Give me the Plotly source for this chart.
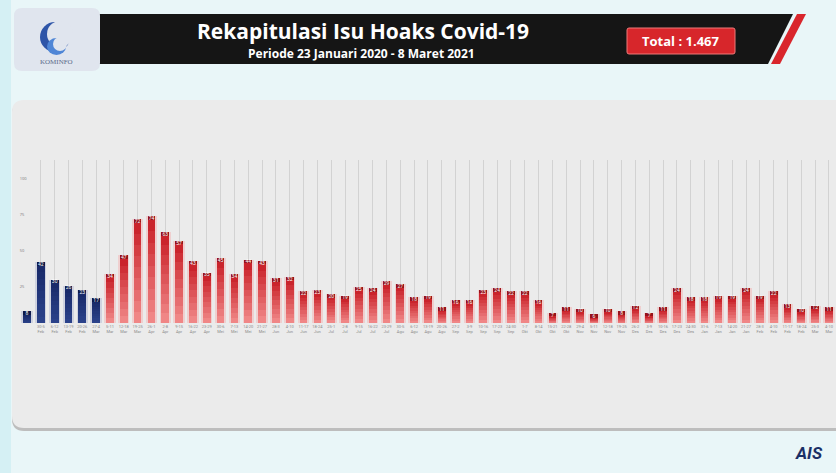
import plotly.graph_objects as go
import numpy as np
import pandas as pd

W, H = 836, 473

# ---- data ----
values = [8, 42, 30, 26, 23, 17,
          34, 47, 72, 74, 63, 57, 43, 35, 45, 34, 44, 43, 31, 32,
          22, 23, 20, 19, 25, 24, 29, 27, 18, 19, 11, 16, 16, 23,
          24, 22, 22, 16, 7, 11, 10, 6, 10, 8, 12, 7, 11, 24,
          18, 18, 19, 19, 24, 19, 22, 13, 10, 12, 11]
phase = ["pre"] * 6 + ["post"] * 53
week_start = pd.date_range("2020-01-23", periods=len(values), freq="7D")
bulan = ["Jan", "Feb", "Mar", "Apr", "Mei", "Jun", "Jul", "Agu", "Sep", "Okt", "Nov", "Des"]
week_labels = [f"{s.day}-{(s + pd.Timedelta(days=6)).day}<br>{bulan[(s + pd.Timedelta(days=6)).month - 1]}"
               for s in week_start]
y_ticks = [0, 25, 50, 75, 100]

title = "Rekapitulasi Isu Hoaks Covid-19"
subtitle = "Periode 23 Januari 2020 - 8 Maret 2021"
total_text = "Total : 1.467"

vals = np.array(values, dtype=float)
xs = list(range(len(values)))


def px(x):
    return x / W


def py(y):
    return 1 - y / H


def mix(c1, c2, t):
    return "rgb(%d,%d,%d)" % tuple(round(a + (b - a) * t) for a, b in zip(c1, c2))


def path(points):
    return "M " + " L ".join(f"{px(x):.5f},{py(y):.5f}" for x, y in points) + " Z"


def rrect(x0, y0, x1, y1, r):
    s = f"M {px(x0 + r):.5f},{py(y0):.5f} L {px(x1 - r):.5f},{py(y0):.5f} "
    s += f"Q {px(x1):.5f},{py(y0):.5f} {px(x1):.5f},{py(y0 + r):.5f} "
    s += f"L {px(x1):.5f},{py(y1 - r):.5f} Q {px(x1):.5f},{py(y1):.5f} {px(x1 - r):.5f},{py(y1):.5f} "
    s += f"L {px(x0 + r):.5f},{py(y1):.5f} Q {px(x0):.5f},{py(y1):.5f} {px(x0):.5f},{py(y1 - r):.5f} "
    s += f"L {px(x0):.5f},{py(y0 + r):.5f} Q {px(x0):.5f},{py(y0):.5f} {px(x0 + r):.5f},{py(y0):.5f} Z"
    return s


fig = go.Figure()

# glow behind bars
glow = ["rgba(60,80,160,0.16)" if p == "pre" else "rgba(255,110,110,0.22)" for p in phase]
fig.add_trace(go.Bar(x=xs, y=vals, width=0.82, marker=dict(color=glow, line=dict(width=0)),
                     xaxis="x", yaxis="y", hoverinfo="skip", showlegend=False))

# gradient bodies (stacked slices of each value)
cap = np.minimum(vals, 2.4)
body = vals - cap
nseg = 9
red_bot, red_top = (242, 140, 140), (200, 30, 38)
blu_bot, blu_top = (44, 68, 140), (24, 40, 104)
for k in range(nseg):
    t = (k + 0.5) / nseg
    cols = [mix(blu_bot, blu_top, t) if p == "pre" else mix(red_bot, red_top, t) for p in phase]
    fig.add_trace(go.Bar(x=xs, y=body / nseg, width=0.56,
                         marker=dict(color=cols, line=dict(width=0)),
                         xaxis="x2", yaxis="y", hoverinfo="skip", showlegend=False))
cap_cols = ["rgb(14,25,72)" if p == "pre" else "rgb(150,18,26)" for p in phase]
fig.add_trace(go.Bar(x=xs, y=cap, width=0.56, marker=dict(color=cap_cols, line=dict(width=0)),
                     xaxis="x2", yaxis="y", hovertext=values, hoverinfo="text", showlegend=False))

# value labels
fig.add_trace(go.Scatter(x=xs, y=vals, mode="text", text=[str(v) for v in values],
                         textposition="bottom center",
                         textfont=dict(size=5, color="white", family="Roboto"),
                         xaxis="x2", yaxis="y", hoverinfo="skip", showlegend=False))

spacing = (829 - 27) / (len(values) - 1)
left = 27 - 0.75 * spacing
right = 829 + 0.5 * spacing

shapes = [
    dict(type="rect", xref="paper", yref="paper", x0=0, x1=px(11), y0=0, y1=1,
         fillcolor="#d5f0f4", line_width=0, layer="below"),
    dict(type="path", xref="paper", yref="paper", path=rrect(12, 102, 860, 431, 12),
         fillcolor="#bdbdbd", line_width=0, layer="below"),
    dict(type="path", xref="paper", yref="paper", path=rrect(12, 100, 860, 428, 12),
         fillcolor="#ebebeb", line_width=0, layer="below"),
    dict(type="path", xref="paper", yref="paper",
         path=path([(96, 14), (793, 14), (768, 64), (96, 64)]),
         fillcolor="#151515", line_width=0),
    dict(type="path", xref="paper", yref="paper",
         path=path([(797, 14), (806, 14), (780, 64), (771, 64)]),
         fillcolor="#d9262c", line_width=0),
    dict(type="path", xref="paper", yref="paper", path=rrect(14, 8, 100, 71, 8),
         fillcolor="#e0e5ee", line_width=0),
    dict(type="path", xref="paper", yref="paper", path=rrect(627, 28, 735, 54, 2),
         fillcolor="#d7262b", line=dict(color="#ef7a7a", width=1)),
    # logo swirl
    dict(type="circle", xref="paper", yref="paper", x0=px(40), x1=px(70), y0=py(52), y1=py(22),
         fillcolor="#2e55a8", line_width=0),
    dict(type="circle", xref="paper", yref="paper", x0=px(47), x1=px(73), y0=py(47), y1=py(21),
         fillcolor="#e0e5ee", line_width=0),
    dict(type="circle", xref="paper", yref="paper", x0=px(47), x1=px(66), y0=py(55), y1=py(38),
         fillcolor="#4f86d6", line_width=0),
    dict(type="circle", xref="paper", yref="paper", x0=px(53), x1=px(67), y0=py(51), y1=py(37),
         fillcolor="#e0e5ee", line_width=0),
]

annotations = [
    dict(x=px(363), y=py(31), xref="paper", yref="paper", text=f"<b>{title}</b>", showarrow=False,
         font=dict(family="Open Sans", size=21, color="white"), xanchor="center", yanchor="middle"),
    dict(x=px(361), y=py(54), xref="paper", yref="paper", text=f"<b>{subtitle}</b>", showarrow=False,
         font=dict(family="Open Sans", size=12, color="white"), xanchor="center", yanchor="middle"),
    dict(x=px(681), y=py(41), xref="paper", yref="paper", text=f"<b>{total_text}</b>", showarrow=False,
         font=dict(family="Open Sans", size=13, color="white"), xanchor="center", yanchor="middle"),
    dict(x=px(57), y=py(62), xref="paper", yref="paper", text="KOMINFO", showarrow=False,
         font=dict(family="Liberation Serif", size=7, color="#5a6a8a"), xanchor="center", yanchor="middle"),
    dict(x=px(809), y=py(453), xref="paper", yref="paper", text="<b><i>AIS</i></b>", showarrow=False,
         font=dict(family="Roboto", size=17, color="#1a2f66"), xanchor="center", yanchor="middle"),
]

fig.update_layout(
    width=W, height=H, margin=dict(l=0, r=0, t=0, b=0),
    paper_bgcolor="#e9f6f8", plot_bgcolor="rgba(0,0,0,0)",
    barmode="stack", bargap=0.3, showlegend=False,
    shapes=shapes, annotations=annotations,
    xaxis=dict(domain=[px(left), min(px(right), 1)], range=[-0.75, len(values) - 0.5],
               tickmode="array", tickvals=xs, ticktext=week_labels,
               tickfont=dict(size=4, color="#8a8a8a", family="Roboto"), tickangle=0,
               showgrid=True, gridcolor="#d2d2d2", gridwidth=1, zeroline=False,
               showline=False, ticks=""),
    xaxis2=dict(overlaying="x", matches="x", visible=False),
    yaxis=dict(domain=[py(323), py(160)], range=[0, 113], tickvals=y_ticks,
               ticktext=[str(t) for t in y_ticks], ticklabelposition="inside",
               tickfont=dict(size=4, color="#777777"), showgrid=False, zeroline=False,
               showline=False, ticks=""),
)

fig.write_html("out.html")
